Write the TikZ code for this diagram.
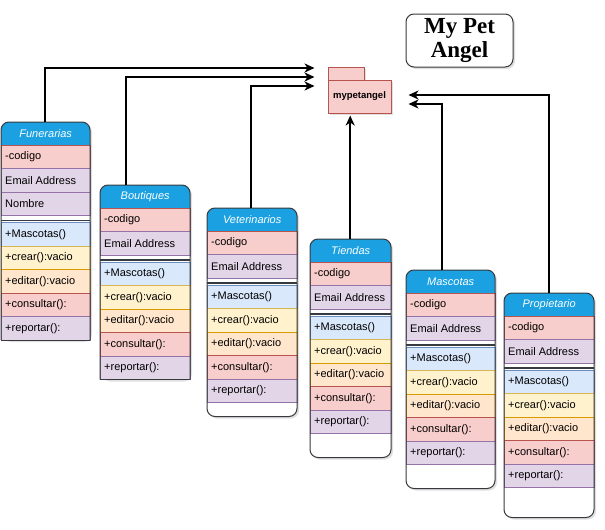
\documentclass[tikz,border=0pt]{standalone}
\usepackage{fontspec}
\setmainfont{Liberation Sans}
\newfontfamily\titlefont{Liberation Serif}
\usetikzlibrary{arrows.meta,calc,shadows}
\definecolor{hdr}{HTML}{1BA1E2}
\definecolor{redF}{HTML}{F8CECC}\definecolor{redD}{HTML}{B85450}
\definecolor{purF}{HTML}{E1D5E7}\definecolor{purD}{HTML}{9673A6}
\definecolor{bluF}{HTML}{DAE8FC}\definecolor{bluD}{HTML}{6C8EBF}
\definecolor{yelF}{HTML}{FFF2CC}\definecolor{yelD}{HTML}{D6B656}
\definecolor{oraF}{HTML}{FFE6CC}\definecolor{oraD}{HTML}{D79B00}
\definecolor{edgec}{HTML}{36393D}
\tikzset{
  rowtxt/.style={anchor=west, inner sep=0pt, font=\fontsize{11}{12}\selectfont, text=black},
  hdrtxt/.style={inner sep=0pt, anchor=north west, font=\fontsize{11}{12}\selectfont\itshape, text=white},
  rowred/.style={fill=redF, draw=redD},
  rowpur/.style={fill=purF, draw=purD},
  rowblu/.style={fill=bluF, draw=bluD},
  rowyel/.style={fill=yelF, draw=yelD},
  rowora/.style={fill=oraF, draw=oraD},
  outline/.style={draw=edgec, line width=1pt},
  boxshadow/.style={drop shadow={opacity=0.25, shadow xshift=2pt, shadow yshift=-2pt}},
  conn/.style={draw=black, line width=1.6pt, -{Stealth[length=10pt,width=9pt,inset=3pt]}},
  pkgstyle/.style={fill=redF, draw=redD, line width=1pt, inner sep=0pt},
}
\newcommand\umlrow[6]{%
  \path[#5, line width=0.9pt] (#2,#3) rectangle ++(#4,23.5);
  \node[rowtxt] (#1) at (#2+4,#3+11.75) {#6};
}
% #1 id, #2 title, #3 x, #4 top, #5 width, #6 number of attributes, #7 extra bottom
\newcommand\umlclass[7]{%
  \pgfmathsetmacro\hb{#4+23}%
  \pgfmathsetmacro\sa{\hb+#6*23.5}%
  \pgfmathsetmacro\ma{\sa+7}%
  \pgfmathsetmacro\bot{\ma+5*23.5+#7}%
  \path[fill=white, boxshadow, rounded corners=8] (#3,#4) rectangle (#3+#5,\bot);
  \begin{scope}
    \clip[rounded corners=8] (#3,#4) rectangle (#3+#5,#4+40);
    \fill[hdr] (#3,#4) rectangle (#3+#5,\hb);
  \end{scope}
  \node[hdrtxt, minimum width=#5, minimum height=23] (#1) at (#3,#4) {#2};
  \umlrow{#1-a1}{#3}{\hb}{#5}{rowred}{-codigo}
  \pgfmathsetmacro\yy{\hb+23.5}%
  \umlrow{#1-a2}{#3}{\yy}{#5}{rowpur}{Email Address}
  \ifnum#6=3
    \pgfmathsetmacro\yy{\hb+47}%
    \umlrow{#1-a3}{#3}{\yy}{#5}{rowpur}{Nombre}
  \fi
  \draw[edgec, line width=1.4pt] (#3,\sa+5) -- (#3+#5,\sa+5);
  \umlrow{#1-m1}{#3}{\ma}{#5}{rowblu}{+Mascotas()}
  \pgfmathsetmacro\yy{\ma+23.5}%
  \umlrow{#1-m2}{#3}{\yy}{#5}{rowyel}{+crear():vacio}
  \pgfmathsetmacro\yy{\ma+47}%
  \umlrow{#1-m3}{#3}{\yy}{#5}{rowora}{+editar():vacio}
  \pgfmathsetmacro\yy{\ma+70.5}%
  \umlrow{#1-m4}{#3}{\yy}{#5}{rowred}{+consultar():}
  \pgfmathsetmacro\yy{\ma+94}%
  \umlrow{#1-m5}{#3}{\yy}{#5}{rowpur}{+reportar():}
  \ifnum#7=0
    \draw[outline, rounded corners=8] (#3,\bot) -- (#3,#4) -- (#3+#5,#4) -- (#3+#5,\bot);
    \draw[outline] (#3,\bot) -- (#3+#5,\bot);
  \else
    \draw[outline, rounded corners=8] (#3,#4) rectangle (#3+#5,\bot);
  \fi
}
\begin{document}
\begin{tikzpicture}[x=1pt,y=-1pt]
\useasboundingbox (0,0) rectangle (605,530);
% title
\node[draw=edgec, line width=1pt, fill=white, rounded corners=8, boxshadow,
      minimum width=107, minimum height=53, align=center, inner sep=0pt,
      font=\titlefont\bfseries\fontsize{23}{24}\selectfont] (title) at (459.5,40.5) {My Pet\\Angel};
% package
\path[pkgstyle, boxshadow] (328,67) rectangle (364,80);
\node[pkgstyle, boxshadow, minimum width=63, minimum height=33,
      font=\bfseries\fontsize{9.5}{11}\selectfont] (pkg) at (359.5,96.5) {mypetangel};
% classes
\umlclass{fun}{Funerarias}{1}{122}{89}{3}{0}
\umlclass{bou}{Boutiques}{100}{185}{90}{2}{0}
\umlclass{vet}{Veterinarios}{207}{208}{90}{2}{14}
\umlclass{tie}{Tiendas}{310}{239}{81}{2}{24}
\umlclass{mas}{Mascotas}{406}{270}{89}{2}{24}
\umlclass{pro}{Propietario}{504}{293}{90}{2}{30}
% connectors
\draw[conn] ($(fun.north)+(-0.5,0)$) |- ($(pkg.west)+(-13,-28.5)$);
\draw[conn] ($(bou.north)+(-19,0)$) |- ($(pkg.west)+(-13,-19.5)$);
\draw[conn] ($(vet.north)+(-1,0)$) |- ($(pkg.west)+(-13,-10.5)$);
\draw[conn] ($(tie.north)+(-0.5,0)$) -- ($(tie.north |- pkg.south)+(-0.5,2)$);
\draw[conn] ($(mas.north)+(-8.5,0)$) |- ($(pkg.east)+(17,7.5)$);
\draw[conn] (pro.north) |- ($(pkg.east)+(17,-1.5)$);
\end{tikzpicture}
\end{document}
